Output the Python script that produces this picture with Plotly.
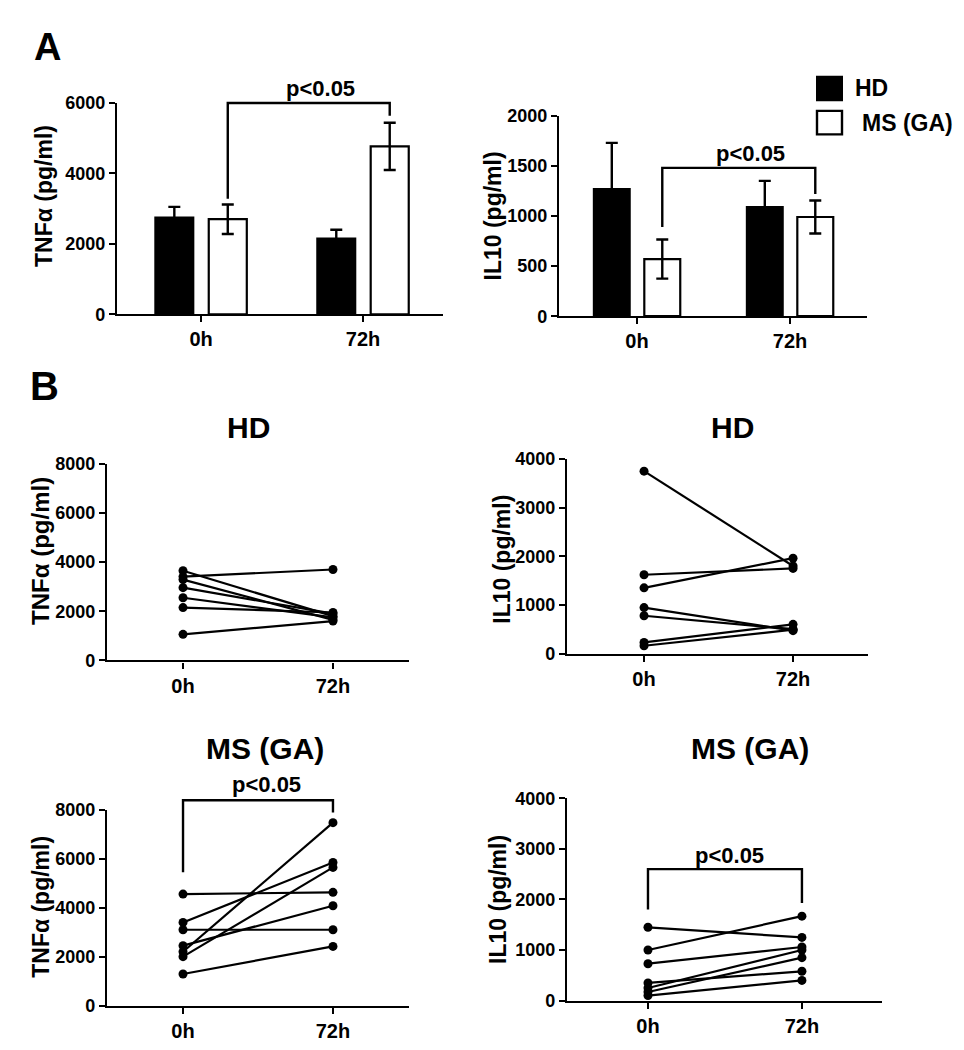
import plotly.graph_objects as go

# The page body has an 8px default margin; positions below are measured on the
# 964x1050 reference screen and converted into figure coordinates.
OFF = 8
W, H = 964 - 2 * OFF, 1050 - 2 * OFF
FONT = "Arial, 'Liberation Sans', sans-serif"

# ---------------- data ----------------
time_points = ["0h", "72h"]

# Panel A: means and SEM
tnf_hd_mean = [2750, 2150]
tnf_hd_err = [300, 250]
tnf_ms_mean = [2700, 4770]
tnf_ms_err = [420, 670]

il10_hd_mean = [1270, 1090]
il10_hd_err = [460, 260]
il10_ms_mean = [570, 990]
il10_ms_err = [195, 165]

# Panel B: paired individual values (0h, 72h)
hd_tnf_0h = [3650, 3410, 3290, 2960, 2550, 2150, 1060]
hd_tnf_72h = [1800, 3700, 1650, 1900, 1750, 1950, 1600]

hd_il10_0h = [3750, 1620, 1350, 945, 777, 228, 160]
hd_il10_72h = [1800, 1750, 1960, 470, 500, 600, 490]

ms_tnf_0h = [4560, 3400, 3100, 2450, 2200, 2000, 1290]
ms_tnf_72h = [4630, 5850, 3100, 4080, 7480, 5650, 2420]

ms_il10_0h = [1450, 1000, 730, 350, 250, 170, 100]
ms_il10_72h = [1250, 1670, 1060, 580, 1000, 850, 400]

# ---------------- layout helpers ----------------
def px_x(p):
    return (p - OFF) / W

def px_y(p):
    return 1 - (p - OFF) / H

def xd(p0, p1):
    return [px_x(p0), px_x(p1)]

def yd(top, bottom):
    return [px_y(bottom), px_y(top)]

panels = {
    # name: (xdomain px, ydomain px (top,bottom), xrange, yrange, dtick)
    "1": ((117, 443), (95, 311), [-0.519, 1.494], [0, 6000], 2000),
    "2": ((559, 867), (108, 313), [-0.51, 1.503], [0, 2000], 500),
    "3": ((107, 409), (464, 665), [-0.507, 1.507], [0, 8000], 2000),
    "4": ((567, 868), (459, 658), [-0.517, 1.503], [0, 4000], 1000),
    "5": ((107, 409), (818, 1018), [-0.507, 1.507], [0, 8000], 2000),
    "6": ((567, 882), (806, 1013), [-0.526, 1.52], [0, 4000], 1000),
}

fig = go.Figure()

BAR_OFF = 0.165  # half distance between grouped bar centres (from bargap)

# ---------------- Panel A bars ----------------
def add_bars(xa, ya, hd_m, hd_e, ms_m, ms_e):
    fig.add_trace(go.Bar(
        x=time_points, y=hd_m, name="HD", xaxis=xa, yaxis=ya,
        marker=dict(color="black", line=dict(color="black", width=2)),
        error_y=dict(type="data", array=hd_e, color="black", thickness=2.4, width=6),
        showlegend=False,
    ))
    fig.add_trace(go.Bar(
        x=time_points, y=ms_m, name="MS (GA)", xaxis=xa, yaxis=ya,
        marker=dict(color="white", line=dict(color="black", width=2.2)),
        error_y=dict(type="data", array=ms_e, color="black", thickness=2.4, width=6),
        showlegend=False,
    ))

add_bars("x", "y", tnf_hd_mean, tnf_hd_err, tnf_ms_mean, tnf_ms_err)
add_bars("x2", "y2", il10_hd_mean, il10_hd_err, il10_ms_mean, il10_ms_err)

# ---------------- Panel B paired lines ----------------
def add_pairs(xa, ya, v0, v72):
    for a, b in zip(v0, v72):
        fig.add_trace(go.Scatter(
            x=time_points, y=[a, b], mode="lines+markers", xaxis=xa, yaxis=ya,
            line=dict(color="black", width=2.2),
            marker=dict(color="black", size=9),
            cliponaxis=False, showlegend=False,
        ))

add_pairs("x3", "y3", hd_tnf_0h, hd_tnf_72h)
add_pairs("x4", "y4", hd_il10_0h, hd_il10_72h)
add_pairs("x5", "y5", ms_tnf_0h, ms_tnf_72h)
add_pairs("x6", "y6", ms_il10_0h, ms_il10_72h)

# ---------------- axes ----------------
layout = dict(
    width=W, height=H,
    margin=dict(l=0, r=0, t=0, b=0),
    paper_bgcolor="white", plot_bgcolor="white",
    barmode="group", bargap=0.34, bargroupgap=0.288,
    font=dict(family=FONT, color="black"),
    showlegend=False,
)

for k, (xp, ypx, xr, yr, dt) in panels.items():
    xname = "xaxis" if k == "1" else "xaxis" + k
    yname = "yaxis" if k == "1" else "yaxis" + k
    xid = "x" if k == "1" else "x" + k
    yid = "y" if k == "1" else "y" + k
    layout[xname] = dict(
        domain=xd(*xp), anchor=yid, type="category", range=xr,
        showline=True, linecolor="black", linewidth=2.4,
        ticks="outside", ticklen=6, tickwidth=2, tickcolor="black",
        showgrid=False, zeroline=False, fixedrange=True,
        tickfont=dict(family=FONT, size=20, color="black", weight="bold"),
    )
    layout[yname] = dict(
        domain=yd(*ypx), anchor=xid, range=yr, dtick=dt, tick0=0,
        showline=True, linecolor="black", linewidth=2.4,
        ticks="outside", ticklen=6, tickwidth=2, tickcolor="black",
        showgrid=False, zeroline=False, fixedrange=True,
        tickfont=dict(family=FONT, size=18, color="black", weight="bold"),
    )

fig.update_layout(**layout)

# ---------------- decorations ----------------
def frac(v, r):
    return (v - r[0]) / (r[1] - r[0])

def bracket(k, x0, x1, ytop, yl, yr_, text, tx, ty):
    xp, ypx, xr, yr, dt = panels[k]
    xref = ("x" if k == "1" else "x" + k) + " domain"
    yref = ("y" if k == "1" else "y" + k) + " domain"
    path = "M {a},{b} L {a},{c} L {d},{c} L {d},{e}".format(
        a=frac(x0, xr), b=frac(yl, yr), c=frac(ytop, yr),
        d=frac(x1, xr), e=frac(yr_, yr))
    fig.add_shape(type="path", path=path, xref=xref, yref=yref,
                  line=dict(color="black", width=2.4))
    fig.add_annotation(text=text, x=frac(tx, xr), y=frac(ty, yr),
                       xref=xref, yref=yref, showarrow=False,
                       xanchor="center", yanchor="middle",
                       font=dict(family=FONT, size=22, color="black", weight="bold"))

bracket("1", 0 + BAR_OFF, 1 + BAR_OFF, 6000, 3280, 5640, "p<0.05", 0.735, 6420)
bracket("2", 0 + BAR_OFF, 1 + BAR_OFF, 1480, 890, 1220, "p<0.05", 0.74, 1620)
bracket("5", 0, 1, 8400, 5450, 7900, "p<0.05", 0.56, 9030)
bracket("6", 0, 1, 2600, 1800, 1930, "p<0.05", 0.53, 2860)

def ann(text, px, py, size, angle=0, xanchor="center"):
    fig.add_annotation(text=text, x=px_x(px), y=px_y(py), xref="paper", yref="paper",
                       showarrow=False, textangle=angle, xanchor=xanchor, yanchor="middle",
                       font=dict(family=FONT, size=size, color="black", weight="bold"))

# y-axis titles
ann("TNFα (pg/ml)", 44, 190, 23, -90)
ann("IL10 (pg/ml)", 493, 211, 23, -90)
ann("TNFα (pg/ml)", 41, 553, 24, -90)
ann("IL10 (pg/ml)", 502, 561, 23, -90)
ann("TNFα (pg/ml)", 41, 917, 23, -90)
ann("IL10 (pg/ml)", 498, 910, 23, -90)

# panel titles
ann("HD", 248, 427, 30)
ann("HD", 732, 427, 30)
ann("MS (GA)", 265, 755, 30)
ann("MS (GA)", 750, 755, 30)

# panel letters
ann("A", 47, 38, 38)
ann("B", 44, 384, 40)

# legend
fig.add_shape(type="rect", x0=px_x(817), x1=px_x(842), y0=px_y(92), y1=px_y(68),
              xref="paper", yref="paper", fillcolor="black", line=dict(color="black", width=2))
fig.add_shape(type="rect", x0=px_x(817), x1=px_x(842), y0=px_y(127), y1=px_y(103),
              xref="paper", yref="paper", fillcolor="white", line=dict(color="black", width=2.4))
ann("HD", 853, 80, 23, xanchor="left")
ann("MS (GA)", 860, 115, 23, xanchor="left")

fig.write_html("out.html")
